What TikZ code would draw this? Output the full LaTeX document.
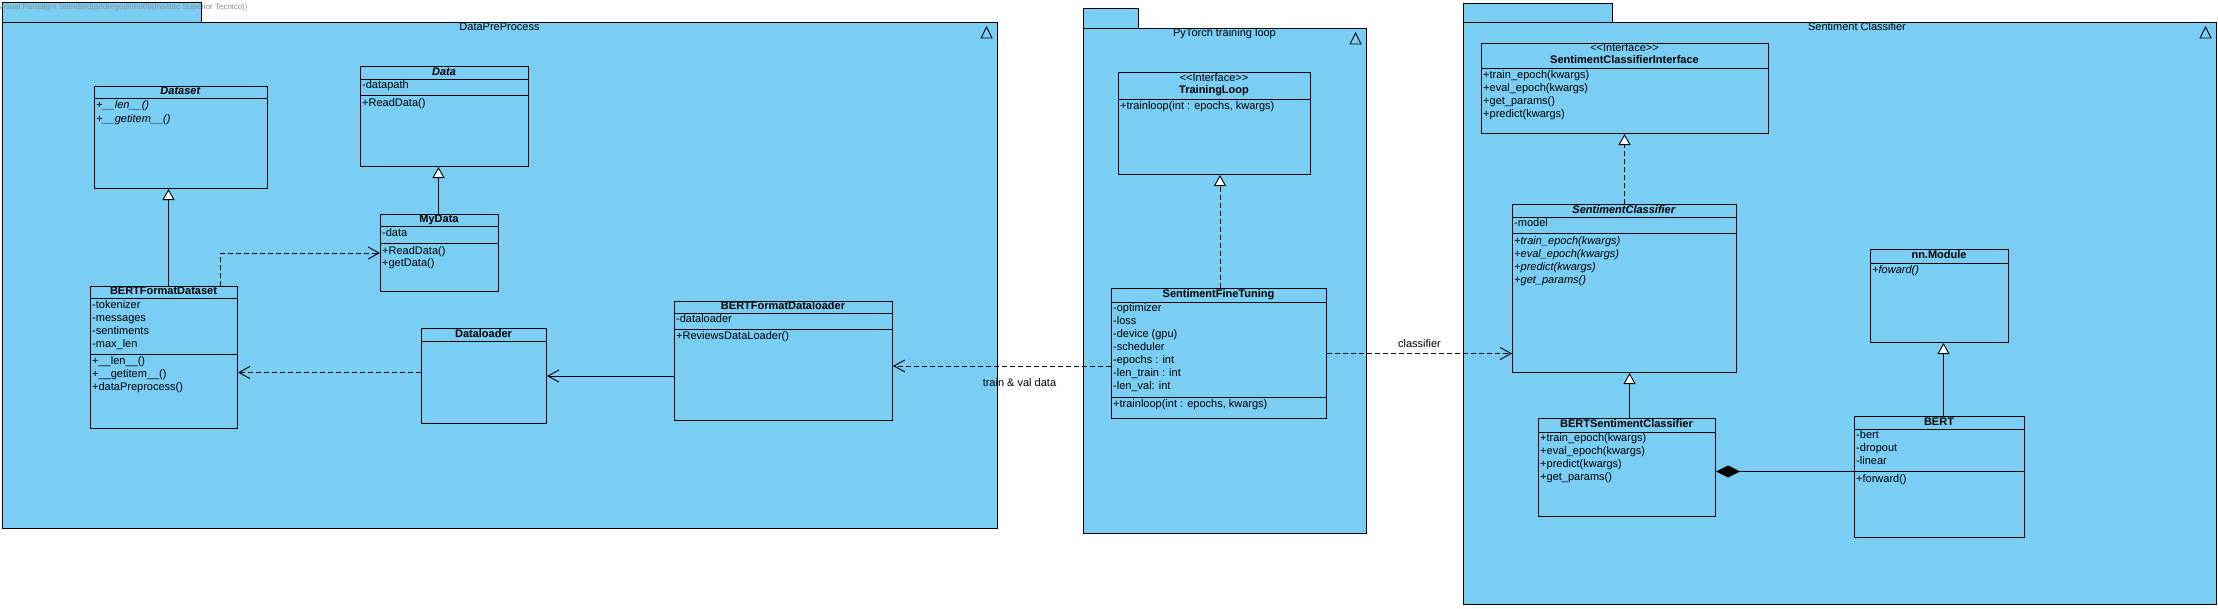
\documentclass[tikz,border=0pt]{standalone}
\usepackage{fontspec}
\setmainfont{Liberation Sans}[Ligatures=TeXOff]
\usetikzlibrary{arrows.meta, calc}
\definecolor{vpblue}{HTML}{7ACDF3}
\definecolor{vpgrey}{HTML}{8E8E8E}

\begin{document}
\begin{tikzpicture}[x=1pt, y=-1pt, line join=miter,
                    font=\fontsize{11}{13}\selectfont,
                    pkg/.style={draw=black, fill=vpblue, line width=1pt},
                    cls/.style={draw=black, fill=vpblue, line width=1pt, anchor=north west, inner sep=0pt},
                    ctitle/.style={inner sep=0pt, text height=8pt, text depth=2.5pt, font=\fontsize{11}{13}\selectfont\bfseries},
                    member/.style={anchor=west, inner sep=0pt, text height=8pt, text depth=2.5pt},
                    lbl/.style={inner sep=0pt, text height=8pt, text depth=2.5pt},
                    gen/.style={line width=0.9pt, -{Triangle[open, length=11pt, width=12pt, fill=white]}},
                    real/.style={line width=0.9pt, dash pattern=on 5pt off 3pt, -{Triangle[open, length=11pt, width=12pt, fill=white]}},
                    dep/.style={line width=0.9pt, dash pattern=on 5pt off 3pt, -{Straight Barb[length=11pt, width=12pt]}},
                    assoc/.style={line width=0.9pt, -{Straight Barb[length=11pt, width=12pt]}},
                    comp/.style={line width=0.9pt, -{Diamond[length=24pt, width=12pt, fill=black]}}]
  \useasboundingbox (0,0) rectangle (2218,608);

  % packages
  \draw[pkg] (2,2) rectangle (201,22);
  \draw[pkg] (2,22) rectangle (997,528);
  \node[lbl] (pkgdata) at (499.5,28) {DataPreProcess};
  \draw[line width=0.9pt] (981,38) -- (986.5,27) -- (992,38) -- cycle;

  \draw[pkg] (1083,8) rectangle (1138,28);
  \draw[pkg] (1083,28) rectangle (1366,533);
  \node[lbl] (pkgloop) at (1224.5,34) {PyTorch training loop};
  \draw[line width=0.9pt] (1350,44) -- (1355.5,33) -- (1361,44) -- cycle;

  \draw[pkg] (1463,3) rectangle (1612,22);
  \draw[pkg] (1463,22) rectangle (2216,604);
  \node[lbl] (pkgclf) at (1857,28) {Sentiment Classifier};
  \draw[line width=0.9pt] (2200,38) -- (2205.5,27) -- (2211,38) -- cycle;

  % DataPreProcess
  \node[cls, minimum width=173pt, minimum height=102pt] (dataset) at (94,86) {};
  \node[ctitle] at (180.5,92) {\textit{Dataset}};
  \draw[line width=1pt] (94,98) -- ++(173,0);
  \foreach \t [count=\i from 0] in {+\_\_len\_\_(), +\_\_getitem\_\_()}
    \node[member] at (96,106+14*\i) {\textit{\t}};

  \node[cls, minimum width=168pt, minimum height=100pt] (data) at (360,66) {};
  \node[ctitle] at (444,72.5) {\textit{Data}};
  \draw[line width=1pt] (360,79) -- ++(168,0);
  \node[member] at (362,86) {-datapath};
  \draw[line width=1pt] (360,95) -- ++(168,0);
  \node[member] at (362,104) {+ReadData()};

  \node[cls, minimum width=118pt, minimum height=77pt] (mydata) at (380,214) {};
  \node[ctitle] at (439,220) {MyData};
  \draw[line width=1pt] (380,226) -- ++(118,0);
  \node[member] at (382,234) {-data};
  \draw[line width=1pt] (380,243) -- ++(118,0);
  \foreach \t [count=\i from 0] in {+ReadData(), +getData()}
    \node[member] at (382,252+12*\i) {\t};

  \node[cls, minimum width=147pt, minimum height=142pt] (bfd) at (90,286) {};
  \node[ctitle] at (163.5,292) {BERTFormatDataset};
  \draw[line width=1pt] (90,298) -- ++(147,0);
  \foreach \t [count=\i from 0] in {-tokenizer, -messages, -sentiments, -max\_len}
    \node[member] at (92,306+13*\i) {\t};
  \draw[line width=1pt] (90,354) -- ++(147,0);
  \foreach \t [count=\i from 0] in {+\_\_len\_\_(), +\_\_getitem\_\_(), +dataPreprocess()}
    \node[member] at (92,362+13*\i) {\t};

  \node[cls, minimum width=125pt, minimum height=95pt] (dataloader) at (421,328) {};
  \node[ctitle] at (483.5,334.5) {Dataloader};
  \draw[line width=1pt] (421,341) -- ++(125,0);

  \node[cls, minimum width=218pt, minimum height=119pt] (bfdl) at (674,301) {};
  \node[ctitle] at (783,307) {BERTFormatDataloader};
  \draw[line width=1pt] (674,313) -- ++(218,0);
  \node[member] at (676,320) {-dataloader};
  \draw[line width=1pt] (674,329) -- ++(218,0);
  \node[member] at (676,337) {+ReviewsDataLoader()};

  % PyTorch training loop
  \node[cls, minimum width=192pt, minimum height=102pt] (trainloop) at (1118,72) {};
  \node[lbl] at (1214,79) {<<Interface>>};
  \node[ctitle] at (1214,91) {TrainingLoop};
  \draw[line width=1pt] (1118,99) -- ++(192,0);
  \node[member] at (1120,107) {+trainloop(int : epochs, kwargs)};

  \node[cls, minimum width=215pt, minimum height=130pt] (sft) at (1111,288) {};
  \node[ctitle] at (1218.5,295) {SentimentFineTuning};
  \draw[line width=1pt] (1111,302) -- ++(215,0);
  \foreach \t [count=\i from 0] in {-optimizer, -loss, -device (gpu), -scheduler,
                                    -epochs : int, -len\_train : int, -len\_val: int}
    \node[member] at (1113,309+13*\i) {\t};
  \draw[line width=1pt] (1111,397) -- ++(215,0);
  \node[member] at (1113,405) {+trainloop(int : epochs, kwargs)};

  % Sentiment Classifier
  \node[cls, minimum width=287pt, minimum height=90pt] (sci) at (1481,43) {};
  \node[lbl] at (1624.5,48.5) {<<Interface>>};
  \node[ctitle] at (1624.5,61) {SentimentClassifierInterface};
  \draw[line width=1pt] (1481,68) -- ++(287,0);
  \foreach \t [count=\i from 0] in {+train\_epoch(kwargs), +eval\_epoch(kwargs), +get\_params(), +predict(kwargs)}
    \node[member] at (1483,76+13*\i) {\t};

  \node[cls, minimum width=224pt, minimum height=168pt] (sc) at (1512,204) {};
  \node[ctitle] at (1624,210.5) {\textit{SentimentClassifier}};
  \draw[line width=1pt] (1512,217) -- ++(224,0);
  \node[member] at (1514,224) {-model};
  \draw[line width=1pt] (1512,233) -- ++(224,0);
  \foreach \t [count=\i from 0] in {+train\_epoch(kwargs), +eval\_epoch(kwargs), +predict(kwargs), +get\_params()}
    \node[member] at (1514,242+13*\i) {\textit{\t}};

  \node[cls, minimum width=177pt, minimum height=98pt] (bsc) at (1538,418) {};
  \node[ctitle] at (1626.5,425) {BERTSentimentClassifier};
  \draw[line width=1pt] (1538,432) -- ++(177,0);
  \foreach \t [count=\i from 0] in {+train\_epoch(kwargs), +eval\_epoch(kwargs), +predict(kwargs), +get\_params()}
    \node[member] at (1540,439+13*\i) {\t};

  \node[cls, minimum width=138pt, minimum height=93pt] (nnmodule) at (1870,249) {};
  \node[ctitle] at (1939,255.5) {nn.Module};
  \draw[line width=1pt] (1870,263) -- ++(138,0);
  \node[member] at (1872,271) {\textit{+foward()}};

  \node[cls, minimum width=170pt, minimum height=121pt] (bert) at (1854,416) {};
  \node[ctitle] at (1939,422.5) {BERT};
  \draw[line width=1pt] (1854,429) -- ++(170,0);
  \foreach \t [count=\i from 0] in {-bert, -dropout, -linear}
    \node[member] at (1856,436+13*\i) {\t};
  \draw[line width=1pt] (1854,471) -- ++(170,0);
  \node[member] at (1856,480) {+forward()};

  % connectors
  \draw[gen] ([xshift=4.5pt]bfd.north) -- ([xshift=4.5pt]bfd.north |- dataset.south);
  \draw[gen] ([xshift=-1pt]mydata.north) -- ([xshift=-1pt]mydata.north |- data.south);
  \draw[dep] ([xshift=56.5pt]bfd.north) |- (mydata.west);
  \draw[dep] ([yshift=3.5pt]dataloader.west) -- ([yshift=3.5pt]dataloader.west -| bfd.east);
  \draw[assoc] (dataloader.east -| bfdl.west) -- (dataloader.east);
  \draw[dep] ([yshift=-12.5pt]sft.west) -- ([yshift=-12.5pt]sft.west -| bfdl.east)
    node[lbl, pos=0.42, below=12pt] {train \& val data};
  \draw[real] ([xshift=1pt]sft.north) -- ([xshift=1pt]sft.north |- trainloop.south);
  \draw[dep] (sft.east) -- (sft.east -| sc.west)
    node[lbl, midway, above=3pt] {classifier};
  \draw[real] (sc.north) -- (sc.north |- sci.south);
  \draw[gen] ([xshift=2.5pt]bsc.north) -- ([xshift=2.5pt]bsc.north |- sc.south);
  \draw[gen] ([xshift=4pt]bert.north) -- ([xshift=4pt]bert.north |- nnmodule.south);
  \draw[comp] ([yshift=5.5pt]bert.west) -- ([yshift=5.5pt]bert.west -| bsc.east);

  \node[anchor=west, inner sep=0pt, text=vpgrey, font=\fontsize{8}{9}\selectfont] (mark) at (-1.5,7)
    {Visual Paradigm Standard(andregodinho06(Insituto Superior Tecnico))};
\end{tikzpicture}
\end{document}
